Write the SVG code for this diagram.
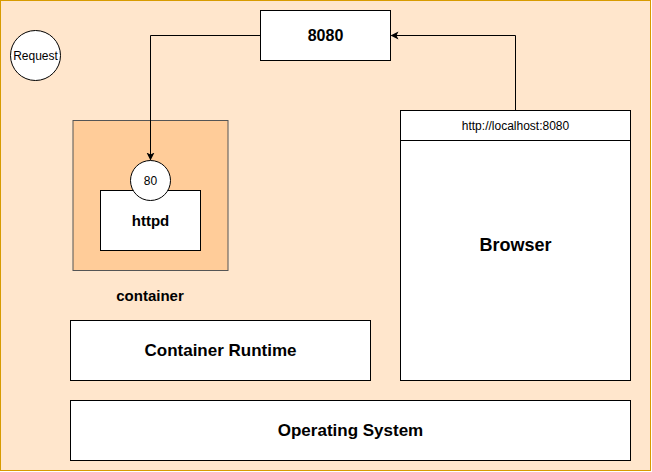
<svg xmlns="http://www.w3.org/2000/svg" width="652" height="472" viewBox="0 0 652 472">
<defs>
<style>
.box{fill:#ffffff;stroke:#000000;stroke-width:1}
.t{font-family:"Liberation Sans",Arial,sans-serif;fill:#000000;text-anchor:middle}
.b{font-weight:bold}
.edge{fill:none;stroke:#000000;stroke-width:1}
</style>
<marker id="arr" markerWidth="10" markerHeight="10" refX="7" refY="4" orient="auto" markerUnits="userSpaceOnUse">
<path d="M0,0 L8,4 L0,8 L2,4 Z" fill="#000000"/>
</marker>
</defs>
<g id="background"><rect x="0.5" y="0.5" width="650" height="470" fill="#ffe6cc" stroke="#d79b00"/></g>
<g id="request"><circle cx="35.5" cy="55.5" r="25" class="box"/><text class="t" x="35.5" y="59.5" font-size="12">Request</text></g>
<g id="port8080"><rect x="260.5" y="10.5" width="130" height="50" class="box"/><text class="t b" x="325.5" y="41" font-size="16">8080</text></g>
<g id="container"><rect x="73" y="120.5" width="155" height="150" fill="#ffcc99" stroke="#555555"/><text class="t b" x="150" y="301" font-size="15">container</text></g>
<g id="httpd"><rect x="100.5" y="190.5" width="100" height="60" class="box"/><text class="t b" x="150.5" y="225.5" font-size="15">httpd</text></g>
<g id="port80"><circle cx="150.5" cy="180.5" r="20" class="box"/><text class="t" x="150.5" y="184.5" font-size="12">80</text></g>
<g id="browser"><rect x="400.5" y="110.5" width="230" height="270" class="box"/><line x1="400.5" y1="140.5" x2="630.5" y2="140.5" stroke="#000000"/><text class="t" x="515.5" y="129.5" font-size="12">http://localhost:8080</text><text class="t b" x="515.5" y="251" font-size="18">Browser</text></g>
<g id="runtime"><rect x="70.5" y="320.5" width="300" height="60" class="box"/><text class="t b" x="220.5" y="355.5" font-size="17">Container Runtime</text></g>
<g id="os"><rect x="70.5" y="400.5" width="560" height="60" class="box"/><text class="t b" x="350.5" y="436" font-size="17">Operating System</text></g>
<g id="connectors">
<path class="edge" d="M260.5,35.5 L150.5,35.5 L150.5,159.5" marker-end="url(#arr)"/>
<path class="edge" d="M515.5,110.5 L515.5,35.5 L391.5,35.5" marker-end="url(#arr)"/>
</g>
</svg>
